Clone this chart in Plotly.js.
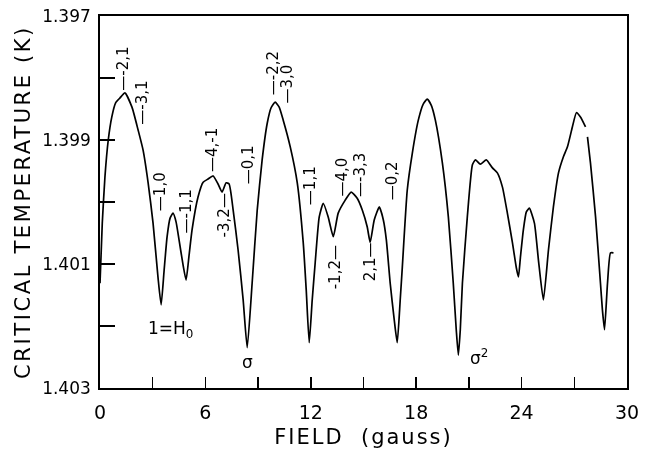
<!DOCTYPE html>
<html>
<head>
<meta charset="utf-8">
<script src="https://cdn.plot.ly/plotly-3.0.1.min.js"></script>
<style>html,body{margin:0;padding:0;background:#fff;}#chart{width:651px;height:455px;}#chart svg{will-change:transform;}</style>
</head>
<body>
<div id="chart"></div>
<script>
// Field (gauss) and critical temperature (K)
var field = [0.00,0.13,0.28,0.47,0.67,0.89,1.14,1.42,1.82,2.17,2.45,2.74,3.02,3.30,3.48,3.65,3.82,3.99,4.16,4.33,4.50,4.73,4.90,5.07,5.24,5.58,5.87,6.15,6.44,6.72,6.95,7.18,7.35,7.58,7.86,8.15,8.38,8.66,8.95,9.23,9.52,9.74,9.97,10.20,10.43,10.83,11.23,11.57,11.74,11.91,12.08,12.25,12.48,12.71,12.99,13.28,13.56,13.96,14.30,14.64,14.93,15.21,15.38,15.61,15.90,16.13,16.30,16.52,16.75,16.92,17.09,17.21,17.49,17.78,18.12,18.40,18.63,18.86,19.09,19.49,19.83,20.11,20.28,20.40,20.51,20.63,20.91,21.20,21.37,21.65,21.99,22.34,22.62,22.91,23.19,23.48,23.70,23.82,23.93,24.10,24.27,24.44,24.73,24.96,25.24,25.53,25.81,26.10,26.38,26.61,26.89,27.12,27.35,27.64,null,27.75,27.92,28.21,28.49,28.60,28.72,28.89,29.06,29.23];
var tc = [1.40131,1.40034,1.39960,1.39900,1.39863,1.39840,1.39832,1.39824,1.39847,1.39884,1.39916,1.39969,1.40034,1.40121,1.40166,1.40110,1.40056,1.40026,1.40018,1.40032,1.40061,1.40102,1.40126,1.40086,1.40045,1.39992,1.39968,1.39963,1.39958,1.39971,1.39984,1.39969,1.39971,1.40013,1.40077,1.40158,1.40235,1.40131,1.40013,1.39932,1.39873,1.39848,1.39839,1.39847,1.39868,1.39911,1.39969,1.40066,1.40142,1.40227,1.40158,1.40098,1.40024,1.40002,1.40024,1.40056,1.40018,1.39997,1.39984,1.39994,1.40013,1.40040,1.40065,1.40029,1.40008,1.40029,1.40061,1.40131,1.40190,1.40227,1.40158,1.40105,1.39981,1.39921,1.39868,1.39842,1.39834,1.39844,1.39868,1.39937,1.40024,1.40131,1.40206,1.40247,1.40206,1.40131,1.40024,1.39940,1.39932,1.39939,1.39932,1.39945,1.39953,1.39976,1.40018,1.40066,1.40106,1.40121,1.40090,1.40045,1.40016,1.40010,1.40034,1.40094,1.40158,1.40077,1.40008,1.39953,1.39927,1.39911,1.39879,1.39856,1.39863,1.39879,null,1.39895,1.39937,1.40024,1.40131,1.40174,1.40206,1.40131,1.40082,1.40082];

// Axis ticks
var xTickVals = [0,3,6,9,12,15,18,21,24,27,30];
var xTickText = ['0','','6','','12','','18','','24','','30'];
var yTickVals = [1.397,1.398,1.399,1.400,1.401,1.402,1.403];
var yTickText = ['1.397','','1.399','','1.401','','1.403'];

// Vertical peak labels
var labelText = ['\u2014-2,1','\u2014-3,1','\u20141,0','\u2014-1,1','\u20144,-1','-3,2\u2014','\u20140,1','\u2014-2,2','\u20143,0','\u20141,1','-1,2\u2014','\u20144,0','\u2014-3,3','2,1\u2014','\u20140,2'];
var labelX = [1.31,2.39,3.42,4.87,6.38,7.08,8.40,9.86,10.66,11.97,13.39,13.79,14.81,15.38,16.64];
var labelY = [1.39785,1.39840,1.39984,1.40016,1.39916,1.40021,1.39940,1.39792,1.39810,1.39974,1.40105,1.39960,1.39956,1.40097,1.39966];

// Horizontal labels
var noteText = ['1=H<sub>0</sub>','\u03c3','\u03c3<sup>2</sup>'];
var noteX = [3.99,8.38,21.6];
var noteY = [1.40206,1.40258,1.40250];

var FONT = 'DejaVu Sans, Arial, sans-serif';
var annotations = [];
for (var i = 0; i < labelText.length; i++) {
  annotations.push({x: labelX[i], y: labelY[i], xref: 'x', yref: 'y', text: labelText[i],
    showarrow: false, textangle: -90, font: {family: FONT, size: 15, color: '#000'}});
}
for (var j = 0; j < noteText.length; j++) {
  annotations.push({x: noteX[j], y: noteY[j], xref: 'x', yref: 'y', text: noteText[j],
    showarrow: false, font: {family: FONT, size: 17, color: '#000'}});
}

var trace = {x: field, y: tc, type: 'scatter', mode: 'lines', connectgaps: false,
  line: {color: '#000', width: 1.7, shape: 'spline', smoothing: 0.5}, hoverinfo: 'skip'};

var layout = {
  width: 651, height: 455,
  margin: {l: 100, r: 24, t: 16, b: 67},
  paper_bgcolor: '#fff', plot_bgcolor: '#fff',
  showlegend: false,
  font: {family: FONT, color: '#000'},
  xaxis: {range: [0, 30], tickmode: 'array', tickvals: xTickVals, ticktext: xTickText,
    ticks: 'inside', ticklen: 11, tickwidth: 1.5, tickcolor: '#000',
    showline: true, linecolor: '#000', linewidth: 1.8, mirror: true,
    showgrid: false, zeroline: false, ticklabelstandoff: 6,
    tickfont: {family: FONT, size: 19, color: '#000'},
    title: {text: 'FIELD\u00a0\u00a0(gauss)', font: {family: FONT, size: 21, color: '#000'}, standoff: 8}},
  yaxis: {range: [1.403, 1.397], tickmode: 'array', tickvals: yTickVals, ticktext: yTickText,
    ticks: 'inside', ticklen: 15, tickwidth: 1.5, tickcolor: '#000',
    showline: true, linecolor: '#000', linewidth: 1.8, mirror: true,
    showgrid: false, zeroline: false, ticklabelstandoff: 4,
    tickfont: {family: FONT, size: 17, color: '#000'},
    title: {text: 'CRITICAL TEMPERATURE (K)', font: {family: FONT, size: 21, color: '#000'}, standoff: 6}},
  annotations: annotations
};

Plotly.newPlot('chart', [trace], layout, {displayModeBar: false, staticPlot: true}).then(function (gd) {
  var xt = gd.querySelector('.g-xtitle text');
  if (xt) xt.style.letterSpacing = '2px';
  var yt = gd.querySelector('.g-ytitle text');
  if (yt) yt.style.letterSpacing = '2.6px';
});
</script>
</body>
</html>
